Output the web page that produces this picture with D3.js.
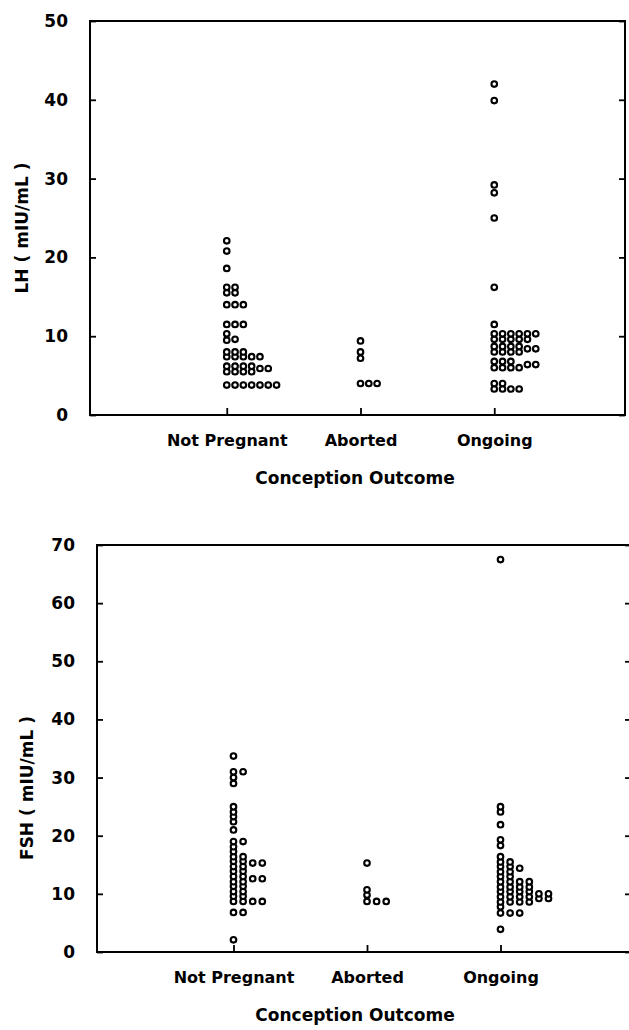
<html>
<head>
<script src="https://d3js.org/d3.v7.min.js"></script>
<style>
  body { margin: 0; background: #fff; }
  text { font-family: "DejaVu Sans", sans-serif; font-weight: bold; fill: #000; }
</style>
<script type="text/javascript">

// categories on the x axis
var categories = ["Not Pregnant", "Aborted", "Ongoing"];

// LH (mIU/mL), one value per woman
var lhNotPregnant = [22.1, 20.8, 18.6, 16.2, 16.2, 15.5, 15.5, 14.0, 14.0, 14.0,
  11.5, 11.5, 11.5, 10.3, 9.6, 9.5, 8.0, 8.0, 8.0, 7.4, 7.4, 7.4, 7.4, 7.4,
  6.2, 6.2, 6.2, 6.2, 5.9, 5.9, 5.5, 5.5, 5.5, 5.5,
  3.8, 3.8, 3.8, 3.8, 3.8, 3.8, 3.8];
var lhAborted = [9.4, 8.0, 7.2, 4.0, 4.0, 4.0];
var lhOngoing = [42.0, 39.9, 29.2, 28.2, 25.0, 16.2, 11.5,
  10.3, 10.3, 10.3, 10.3, 10.3, 10.3, 9.6, 9.6, 9.6, 9.6, 9.6,
  8.7, 8.7, 8.7, 8.7, 8.4, 8.4, 8.0, 8.0, 8.0, 8.0,
  6.8, 6.8, 6.8, 6.4, 6.4, 6.0, 6.0, 6.0, 6.0,
  4.0, 4.0, 3.3, 3.3, 3.3, 3.3];

// FSH (mIU/mL)
var fshNotPregnant = [33.7, 31.0, 31.0, 30.0, 29.0, 25.0, 24.1, 23.3, 22.4, 21.0,
  19.0, 19.0, 18.1, 17.3, 16.4, 16.4, 15.6, 15.6, 15.3, 15.3, 14.7, 14.7,
  13.9, 13.9, 13.0, 13.0, 12.6, 12.6, 12.1, 12.1, 11.3, 11.3, 10.4, 10.4,
  9.6, 9.6, 8.7, 8.7, 8.7, 8.7, 6.8, 6.8, 2.1];
var fshAborted = [15.3, 10.7, 9.8, 8.7, 8.7, 8.7];
var fshOngoing = [67.5, 25.0, 24.1, 21.9, 19.3, 18.3, 16.4, 15.5, 15.5,
  14.7, 14.7, 14.4, 13.8, 13.8, 13.0, 13.0, 12.1, 12.1, 12.1, 12.1,
  11.2, 11.2, 11.2, 11.2, 10.4, 10.4, 10.4, 10.4, 10.0, 10.0,
  9.5, 9.5, 9.5, 9.5, 9.2, 9.2, 8.6, 8.6, 8.6, 8.6, 7.8, 6.7, 6.7, 6.7, 3.9];

var lhTicks = [0, 10, 20, 30, 40, 50];
var fshTicks = [0, 10, 20, 30, 40, 50, 60, 70];

var xTitle = "Conception Outcome";

window.onload = function()
{
  var svg = d3.select("body").append("svg").attr("width", 629).attr("height", 1030);

  drawPanel(svg, {
    left: 90, right: 625, top: 21, bottom: 415,
    ticks: lhTicks, title: "LH ( mIU/mL )", titleX: 28, titleY: 228,
    series: [lhNotPregnant, lhAborted, lhOngoing], colStep: 8.3
  });

  drawPanel(svg, {
    left: 97, right: 631, top: 545, bottom: 952,
    ticks: fshTicks, title: "FSH ( mIU/mL )", titleX: 33, titleY: 788,
    series: [fshNotPregnant, fshAborted, fshOngoing], colStep: 9.6
  });
};

// put values that would overlap side by side, to the right of the category
function layoutDots(values, y, minGap)
{
  var cols = [];
  return values.slice().sort(d3.ascending).map(function(v) {
    var py = y(v), k = 0;
    while (cols[k] && cols[k].some(function(q) { return Math.abs(q - py) < minGap; })) k++;
    (cols[k] = cols[k] || []).push(py);
    return {value: v, col: k};
  });
}

function drawPanel(svg, o)
{
  var g = svg.append("g");

  var x = d3.scalePoint().domain(categories).range([o.left + 3, o.right + 3]).padding(1);
  var y = d3.scaleLinear().domain([0, d3.max(o.ticks)]).range([o.bottom, o.top]);

  // frame
  g.append("rect")
    .attr("x", o.left).attr("y", o.top)
    .attr("width", o.right - o.left).attr("height", o.bottom - o.top)
    .attr("fill", "none").attr("stroke", "#000").attr("stroke-width", 2);

  // y axis, ticks point inward
  var ya = g.append("g")
    .attr("transform", "translate(" + o.left + ",0)")
    .call(d3.axisLeft(y).tickValues(o.ticks).tickSize(-6).tickPadding(22));
  ya.select(".domain").remove();
  ya.selectAll("line").attr("stroke-width", 1.8);
  ya.selectAll("text").style("font-size", "17px");

  var yr = g.append("g")
    .attr("transform", "translate(" + o.right + ",0)")
    .call(d3.axisRight(y).tickValues(o.ticks).tickSize(-6).tickFormat(""));
  yr.select(".domain").remove();
  yr.selectAll("line").attr("stroke-width", 1.8);

  // x axis
  var xa = g.append("g")
    .attr("transform", "translate(0," + o.bottom + ")")
    .call(d3.axisBottom(x).tickSize(-7).tickPadding(20));
  xa.select(".domain").remove();
  xa.selectAll("line").attr("stroke-width", 1.8);
  xa.selectAll("text").style("font-size", "16px");

  // titles
  g.append("text")
    .attr("transform", "translate(" + o.titleX + "," + o.titleY + ") rotate(-90)")
    .attr("text-anchor", "middle")
    .style("font-size", "17px")
    .text(o.title);

  g.append("text")
    .attr("x", 355).attr("y", o.bottom + 69)
    .attr("text-anchor", "middle")
    .style("font-size", "17px")
    .text(xTitle);

  // points
  o.series.forEach(function(vals, i) {
    var cat = categories[i];
    g.append("g").selectAll("circle")
      .data(layoutDots(vals, y, 4))
      .enter().append("circle")
      .attr("cx", function(d) { return x(cat) + d.col * o.colStep; })
      .attr("cy", function(d) { return y(d.value); })
      .attr("r", 2.8)
      .attr("fill", "#fff")
      .attr("stroke", "#000")
      .attr("stroke-width", 2.1);
  });
}

</script>
</head>
<body>
</body>
</html>
